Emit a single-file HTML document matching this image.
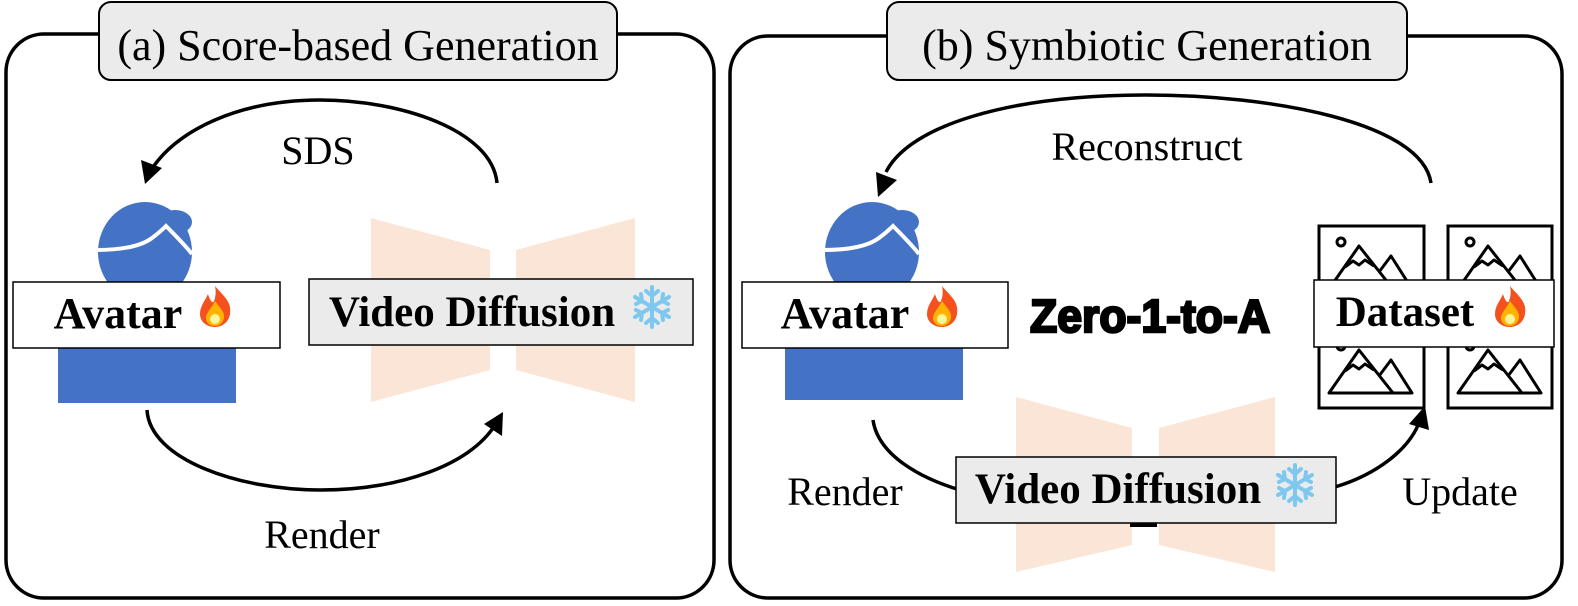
<!DOCTYPE html>
<html><head><meta charset="utf-8"><style>
html,body{margin:0;padding:0;background:#fff;}
svg{display:block;}
.serif{font-family:"Liberation Serif",serif;}
</style></head><body>
<svg width="1578" height="606" viewBox="0 0 1578 606" xmlns="http://www.w3.org/2000/svg">
<defs>
<g id="fire">
<path d="M0,-20 C8,-10 17,-5 15,8 C14,16 7,21 0,21 C-8,21 -15,16 -15,8 C-15,0 -10,-5 -7,-12 C-5,-5 -2,-2 -1,-5 C1,-10 1,-15 0,-20Z" fill="#f4511e"/>
<path d="M0,-5 C5,2 10,6 9,12 C8,17 4,20 0,20 C-5,20 -9,17 -9,12 C-9,7 -4,3 0,-5Z" fill="#ffb300"/>
<ellipse cx="0" cy="13" rx="5" ry="5" fill="#fff59d"/>
</g>
<g id="snow" stroke="#7ec8f0" stroke-width="4" stroke-linecap="round" fill="none">
<line x1="0" y1="-20" x2="0" y2="20"/><line x1="-17" y1="-10" x2="17" y2="10"/><line x1="-17" y1="10" x2="17" y2="-10"/>
<path d="M-6,-16 L0,-11 L6,-16 M-6,16 L0,11 L6,16 M-16,-3 L-10,-6 L-11,-13 M16,3 L10,6 L11,13 M-16,3 L-10,6 L-11,13 M16,-3 L10,-6 L11,-13"/>
</g>
<g id="mtn" fill="none" stroke="#000" stroke-width="3" stroke-linejoin="round">
<circle cx="22" cy="0" r="4"/>
<path d="M10,47 L40,4 L74,47 Z"/>
<path d="M26,25 L34,19 L40,23 L46,18 L55,24"/>
<path d="M60,30 L72,14 L93,47 L74,47"/>
</g>
</defs>

<!-- Panel A -->
<rect x="6" y="34" width="708" height="564" rx="38" fill="#fff" stroke="#000" stroke-width="3.5"/>
<rect x="99" y="2" width="518" height="78" rx="12" fill="#ebebeb" stroke="#000" stroke-width="2"/>
<text x="358" y="60" text-anchor="middle" class="serif" font-size="44">(a) Score-based Generation</text>

<!-- SDS arrow -->
<path d="M497,183 C492,130 400,100 320,100 C240,100 175,130 150,172" fill="none" stroke="#000" stroke-width="3.5"/>
<polygon points="145,184 141,160 162,168" fill="#000"/>
<text x="318" y="164" text-anchor="middle" class="serif" font-size="40">SDS</text>

<!-- Render arrow -->
<path d="M147,410 C150,460 240,490 320,490 C400,490 470,465 495,425" fill="none" stroke="#000" stroke-width="3.5"/>
<polygon points="503,412 502,436 484,424" fill="#000"/>
<text x="322" y="548" text-anchor="middle" class="serif" font-size="40">Render</text>

<!-- Avatar A -->
<ellipse cx="145" cy="252" rx="47" ry="50" fill="#4472c4"/>
<ellipse cx="175" cy="222" rx="17" ry="12" fill="#4472c4"/>
<path d="M96,250 C120,250 140,247 152,238 C160,232 164,228 166,226 C176,236 184,244 192,254" fill="none" stroke="#fff" stroke-width="4"/>
<rect x="58" y="340" width="178" height="63" fill="#4472c4"/>
<rect x="13" y="282" width="267" height="66" fill="#fff" stroke="#000" stroke-width="1.5"/>
<text x="118" y="328" text-anchor="middle" class="serif" font-size="44" font-weight="bold">Avatar</text>
<use href="#fire" x="215" y="306"/>

<!-- VD A -->
<polygon points="371,218 490,250 490,370 371,402" fill="#fbe5d6"/>
<polygon points="516,250 635,218 635,402 516,370" fill="#fbe5d6"/>
<rect x="309" y="279" width="384" height="66" fill="#ebebeb" stroke="#000" stroke-width="1.5"/>
<text x="472" y="326" text-anchor="middle" class="serif" font-size="43" font-weight="bold">Video Diffusion</text>
<use href="#snow" x="652" y="307"/>

<!-- Panel B -->
<rect x="730" y="36" width="832" height="562" rx="38" fill="#fff" stroke="#000" stroke-width="3.5"/>
<rect x="887" y="2" width="520" height="78" rx="12" fill="#ebebeb" stroke="#000" stroke-width="2"/>
<text x="1147" y="60" text-anchor="middle" class="serif" font-size="44">(b) Symbiotic Generation</text>

<!-- Reconstruct arrow -->
<path d="M1431,183 C1422,122 1270,95 1147,95 C1010,95 910,125 886,172" fill="none" stroke="#000" stroke-width="3.5"/>
<polygon points="878,197 876,172 897,180" fill="#000"/>
<text x="1147" y="160" text-anchor="middle" class="serif" font-size="40">Reconstruct</text>

<!-- Avatar B -->
<ellipse cx="872" cy="252" rx="47" ry="50" fill="#4472c4"/>
<ellipse cx="902" cy="222" rx="17" ry="12" fill="#4472c4"/>
<path d="M823,250 C847,250 867,247 879,238 C887,232 891,228 893,226 C903,236 911,244 919,254" fill="none" stroke="#fff" stroke-width="4"/>
<rect x="785" y="340" width="178" height="60" fill="#4472c4"/>
<rect x="742" y="282" width="266" height="66" fill="#fff" stroke="#000" stroke-width="1.5"/>
<text x="845" y="328" text-anchor="middle" class="serif" font-size="44" font-weight="bold">Avatar</text>
<use href="#fire" x="942" y="306"/>

<!-- Zero-1-to-A -->
<text x="1030" y="332" font-family="Liberation Sans, sans-serif" font-size="46" font-weight="bold" stroke="#000" stroke-width="2.5" textLength="240" lengthAdjust="spacingAndGlyphs">Zero-1-to-A</text>

<!-- Dataset -->
<rect x="1319" y="226" width="105" height="182" fill="#fff" stroke="#000" stroke-width="3"/>
<rect x="1448" y="226" width="104" height="182" fill="#fff" stroke="#000" stroke-width="3"/>
<use href="#mtn" x="1319" y="242"/>
<use href="#mtn" x="1448" y="242"/>
<use href="#mtn" x="1319" y="346"/>
<use href="#mtn" x="1448" y="346"/>
<rect x="1314" y="280" width="240" height="67" fill="#fff" stroke="#000" stroke-width="1.5"/>
<text x="1405" y="326" text-anchor="middle" class="serif" font-size="43" font-weight="bold">Dataset</text>
<use href="#fire" x="1510" y="306"/>

<!-- Render / Update arrows B -->
<path d="M873,420 C878,455 920,478 960,490" fill="none" stroke="#000" stroke-width="3.5"/>
<path d="M1335,487 C1375,475 1410,450 1420,420" fill="none" stroke="#000" stroke-width="3.5"/>
<polygon points="1425,406 1429,430 1409,424" fill="#000"/>
<text x="845" y="505" text-anchor="middle" class="serif" font-size="40">Render</text>
<text x="1460" y="505" text-anchor="middle" class="serif" font-size="40">Update</text>

<!-- VD B -->
<polygon points="1016,397 1132,428 1132,545 1016,572" fill="#fbe5d6"/>
<polygon points="1159,428 1275,397 1275,572 1159,545" fill="#fbe5d6"/>
<rect x="1130" y="515" width="27" height="12" fill="#000"/>
<rect x="956" y="457" width="380" height="66" fill="#ebebeb" stroke="#000" stroke-width="1.5"/>
<text x="1118" y="503" text-anchor="middle" class="serif" font-size="43" font-weight="bold">Video Diffusion</text>
<use href="#snow" x="1295" y="485"/>
</svg>
</body></html>
